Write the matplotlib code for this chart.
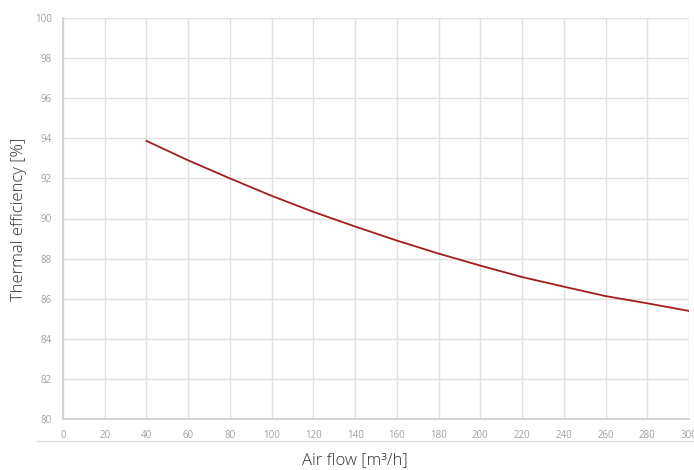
import matplotlib
matplotlib.use('Agg')
import matplotlib.pyplot as plt
from matplotlib.lines import Line2D

# air flow [m3/h] vs thermal efficiency [%]
air_flow = [40, 60, 80, 100, 120, 140, 160, 180, 200, 220, 240, 260, 280, 300]
efficiency = [93.87, 92.9, 92.0, 91.13, 90.33, 89.6, 88.9, 88.25, 87.65, 87.08, 86.6, 86.13, 85.77, 85.39]

x_ticks = list(range(0, 301, 20))
y_ticks = list(range(80, 101, 2))

plt.rcParams['font.family'] = ['Open Sans', 'DejaVu Sans']

W, H = 694, 470
fig = plt.figure(figsize=(W / 100, H / 100), dpi=100)
ax = fig.add_axes([63 / W, 1 - 419 / H, 626 / W, 401 / H])

ax.plot(air_flow, efficiency, color='#a31d1d', lw=1.3, zorder=3)

ax.set_xlim(0, 300)
ax.set_ylim(80, 100)
ax.set_xticks(x_ticks)
ax.set_yticks(y_ticks)
ax.grid(True, color='#e0e0e0', lw=1.0)
ax.set_axisbelow(True)
ax.tick_params(length=0, labelsize=7, colors='#a0a0a0', pad=8)
for s in ['top', 'right']:
    ax.spines[s].set_visible(False)
for s in ['left', 'bottom']:
    ax.spines[s].set_color('#cfcfcf')
    ax.spines[s].set_linewidth(1.2)

# axis titles placed by hand like the original layout
fig.text(19 / W, 1 - 219 / H, 'Thermal efficiency [%]', rotation=90, ha='center', va='center',
         fontsize=12, color='#333333', fontweight='light')
fig.text(355 / W, 1 - 460 / H, 'Air flow [m³/h]', ha='center', va='center',
         fontsize=12, color='#333333', fontweight='light')

# thin separator line under the tick labels
fig.add_artist(Line2D([37 / W, 1.0], [1 - 441 / H, 1 - 441 / H],
                      transform=fig.transFigure, color='#e0e0e0', lw=1.0))

fig.savefig('out.png', dpi=100)
